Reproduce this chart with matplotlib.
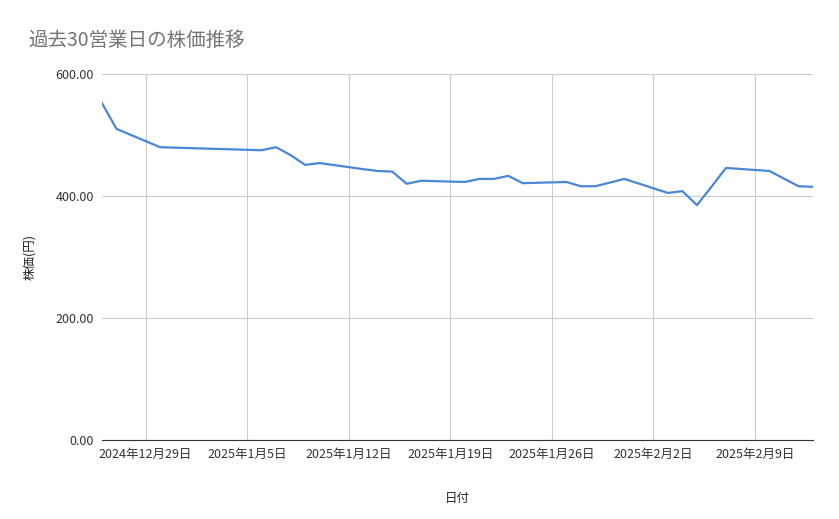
import matplotlib
matplotlib.use("Agg")
import matplotlib.pyplot as plt
import matplotlib.dates as mdates
import pandas as pd

plt.rcParams['font.family'] = ['Noto Sans CJK JP', 'DejaVu Sans']

dates = ["2024-12-26","2024-12-27","2024-12-30","2025-01-06","2025-01-07","2025-01-08",
         "2025-01-09","2025-01-10","2025-01-13","2025-01-14","2025-01-15","2025-01-16",
         "2025-01-17","2025-01-20","2025-01-21","2025-01-22","2025-01-23","2025-01-24",
         "2025-01-27","2025-01-28","2025-01-29","2025-01-31","2025-02-03","2025-02-04",
         "2025-02-05","2025-02-06","2025-02-07","2025-02-10","2025-02-12","2025-02-13"]
prices = [552,510,480,475,480,467,451,454,444,441,440,420,425,423,428,428,433,421,
          423,416,416,428,405,408,385,415,446,441,416,415]
ticks = ["2024-12-29","2025-01-05","2025-01-12","2025-01-19","2025-01-26","2025-02-02","2025-02-09"]
tick_labels = ["2024年12月29日","2025年1月5日","2025年1月12日","2025年1月19日",
               "2025年1月26日","2025年2月2日","2025年2月9日"]

d = pd.to_datetime(dates)
fig = plt.figure(figsize=(8.39, 5.19), dpi=100)
ax = fig.add_axes([102/839, 1-440/519, 711/839, 366/519])
ax.plot(d, prices, color="#4a86d8", lw=1.6)
ax.set_xlim(d[0], d[-1])
ax.set_ylim(0, 600)
ax.set_yticks([0, 200, 400, 600])
ax.set_yticklabels(["0.00", "200.00", "400.00", "600.00"])
ax.set_xticks(pd.to_datetime(ticks))
ax.set_xticklabels(tick_labels)
ax.grid(True, color="#cccccc", lw=0.8)
for s in ["top", "right", "left"]:
    ax.spines[s].set_visible(False)
ax.spines["bottom"].set_color("#333333")
ax.tick_params(length=0, labelsize=9, colors="#333333", pad=6)
ax.set_xlabel("日付", fontsize=9, color="#222222", labelpad=22)
ax.set_ylabel("株価(円)", fontsize=9, color="#222222", labelpad=14)
fig.text(28/839, 1-40/519, "過去30営業日の株価推移", fontsize=14, color="#757575", va="center")
fig.savefig("out.png", dpi=100)
